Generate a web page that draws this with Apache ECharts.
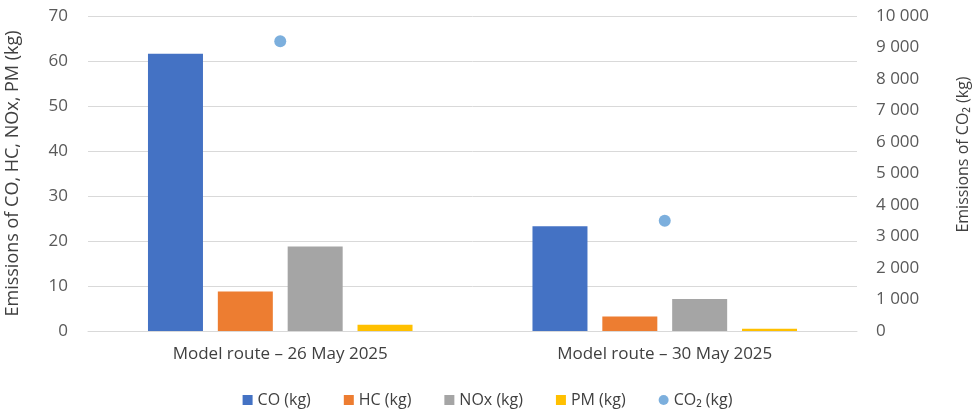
<!DOCTYPE html>
<html><head><meta charset="utf-8">
<script src="https://cdn.jsdelivr.net/npm/echarts@6/dist/echarts.min.js"></script>
<style>html,body{margin:0;padding:0;background:#fff}#c{width:975px;height:416px}</style>
</head><body><div id="c"></div>
<script>
const categories = ['Model route – 26 May 2025', 'Model route – 30 May 2025'];
const coValues = [61.6, 23.3];
const hcValues = [8.8, 3.2];
const noxValues = [18.8, 7.1];
const pmValues = [1.4, 0.5];
const co2Values = [9200, 3500];
const leftTicks = [0, 10, 20, 30, 40, 50, 60, 70];
const rightTicks = [0, 1000, 2000, 3000, 4000, 5000, 6000, 7000, 8000, 9000, 10000];

const font = 'Open Sans';
const txt = '#595959';
const dark = '#404040';
const chart = echarts.init(document.getElementById('c'));
const barBase = {type: 'bar', barWidth: 55, barGap: '27%', yAxisIndex: 0};
chart.setOption({
  animation: false,
  textStyle: {fontFamily: font},
  grid: {left: 88, right: 118, top: 16, bottom: 85, outerBoundsMode: 'none', containLabel: false},
  legend: {
    bottom: 3, left: 'center', itemWidth: 10, itemHeight: 10, itemGap: 33,
    textStyle: {fontFamily: font, fontSize: 16, color: dark},
    data: [
      {name: 'CO (kg)', icon: 'rect'}, {name: 'HC (kg)', icon: 'rect'},
      {name: 'NOx (kg)', icon: 'rect'}, {name: 'PM (kg)', icon: 'rect'},
      {name: 'CO₂ (kg)', icon: 'circle'}
    ]
  },
  xAxis: {
    type: 'category', data: categories,
    axisLine: {lineStyle: {color: '#d9d9d9'}}, axisTick: {show: false},
    axisLabel: {color: dark, fontSize: 17, fontFamily: font, margin: 15}
  },
  yAxis: [
    {type: 'value', min: 0, max: 70, interval: 10,
     name: 'Emissions of CO, HC, NOx, PM (kg)', nameLocation: 'middle', nameGap: 66,
     nameTextStyle: {color: dark, fontSize: 18, fontFamily: font},
     axisLabel: {color: txt, fontSize: 17, fontFamily: font, margin: 20},
     axisLine: {show: false}, axisTick: {show: false},
     splitLine: {lineStyle: {color: '#d9d9d9'}}},
    {type: 'value', min: 0, max: 10000, interval: 1000, position: 'right',
     name: 'Emissions of CO₂ (kg)', nameLocation: 'middle', nameGap: 98, nameRotate: 90,
     nameTextStyle: {color: dark, fontSize: 16, fontFamily: font, padding: [0, 0, 0, 38]},
     axisLabel: {color: txt, fontSize: 17, fontFamily: font, margin: 19,
       formatter: v => String(v).replace(/\B(?=(\d{3})+(?!\d))/g, ' ')},
     axisLine: {show: false}, axisTick: {show: false}, splitLine: {show: false}}
  ],
  series: [
    Object.assign({name: 'CO (kg)', data: coValues, itemStyle: {color: '#4472c4'}}, barBase),
    Object.assign({name: 'HC (kg)', data: hcValues, itemStyle: {color: '#ed7d31'}}, barBase),
    Object.assign({name: 'NOx (kg)', data: noxValues, itemStyle: {color: '#a5a5a5'}}, barBase),
    Object.assign({name: 'PM (kg)', data: pmValues, itemStyle: {color: '#ffc000'}}, barBase),
    {name: 'CO₂ (kg)', type: 'scatter', yAxisIndex: 1, data: co2Values, symbolSize: 12,
     itemStyle: {color: '#5b9bd5'}}
  ]
});
</script></body></html>
